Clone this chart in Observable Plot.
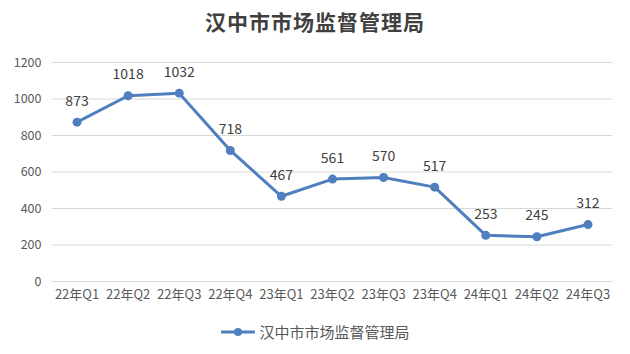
<!DOCTYPE html>
<html><head><meta charset="utf-8">
<script src="https://cdn.jsdelivr.net/npm/d3@7"></script>
<script src="https://cdn.jsdelivr.net/npm/@observablehq/plot@0.6"></script>
<style>
body{margin:0;background:#fff;font-family:"Noto Sans CJK SC","Open Sans",sans-serif;}
#wrap{width:630px;height:354px;position:relative;}
#title{position:absolute;top:6px;left:0;width:630px;text-align:center;font-size:21px;font-weight:bold;color:#404040;font-family:"Noto Sans CJK SC",serif;letter-spacing:1px;}
#chart{position:absolute;top:45px;left:0;}
#legend{position:absolute;top:321px;left:0;width:630px;display:flex;justify-content:center;align-items:center;font-size:15px;color:#595959;}
</style></head><body>
<div id="wrap">
<div id="title">汉中市市场监督管理局</div>
<div id="chart"></div>
<div id="legend"><svg width="36" height="12" style="margin-right:3px"><line x1="1" x2="35" y1="6" y2="6" stroke="#4F7FBE" stroke-width="3"/><circle cx="18" cy="6" r="4" fill="#4F7FBE"/></svg><span>汉中市市场监督管理局</span></div>
</div>
<script>
const quarters = ["22年Q1","22年Q2","22年Q3","22年Q4","23年Q1","23年Q2","23年Q3","23年Q4","24年Q1","24年Q2","24年Q3"];
const values = [873,1018,1032,718,467,561,570,517,253,245,312];
const yTicks = [0,200,400,600,800,1000,1200];
const data = quarters.map((q,i)=>({q, v: values[i]}));
const color = "#4F7FBE";
const chart = Plot.plot({
  width: 630, height: 265,
  marginTop: 17, marginBottom: 29, marginLeft: 52, marginRight: 18,
  style: {fontFamily: '"Noto Sans CJK SC","Open Sans",sans-serif', fontSize: "12px", color: "#595959", background: "#fff"},
  x: {type: "point", domain: quarters, padding: 0.48, round: false, label: null, tickSize: 0, tickPadding: 8},
  y: {domain: [0,1200], ticks: yTicks, label: null, tickSize: 0, tickPadding: 11},
  marks: [
    Plot.ruleY(yTicks, {stroke: "#d9d9d9", strokeWidth: 1}),
    Plot.axisY({ticks: yTicks, tickFormat: "d", tickSize: 0, tickPadding: 11, label: null, fontSize: 12.5}),
    Plot.axisX({tickSize: 0, tickPadding: 8, label: null, fontSize: 13}),
    Plot.line(data, {x: "q", y: "v", stroke: color, strokeWidth: 3}),
    Plot.dot(data, {x: "q", y: "v", fill: color, r: 4.5}),
    Plot.text(data, {x: "q", y: "v", text: d => String(d.v), dy: -21, fill: "#404040", fontSize: 14})
  ]
});
document.getElementById("chart").appendChild(chart);
</script>
</body></html>
